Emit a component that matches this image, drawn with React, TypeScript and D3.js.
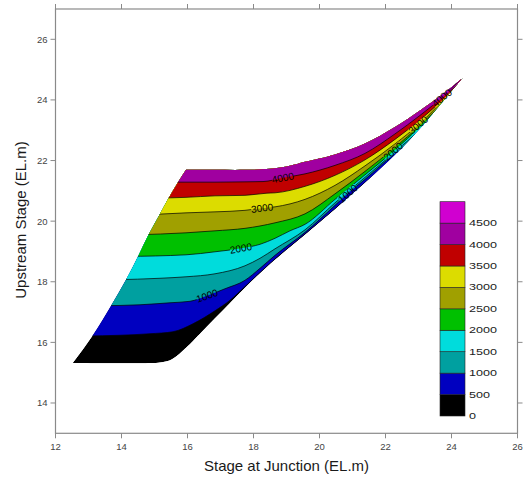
import React from 'react';
import * as d3 from 'd3';

type P = [number, number];

const xTicks = [12, 14, 16, 18, 20, 22, 24, 26];
const yTicks = [14, 16, 18, 20, 22, 24, 26];
const levels = [0, 500, 1000, 1500, 2000, 2500, 3000, 3500, 4000, 4500, 5000];
const bandColors = ['#000000', '#0000c0', '#00a0a0', '#00dcdc', '#00c000', '#a0a000', '#dcdc00', '#c00000', '#a000a0', '#d000d0'];

// boundary of the computed region (data units: junction stage, upstream stage)
const leftEdge: P[] = [[12.521, 15.319], [13.121, 16.219], [13.682, 17.208], [14.136, 18.065], [14.5, 18.834], [14.818, 19.549], [15.152, 20.208], [15.424, 20.759], [15.712, 21.287], [15.955, 21.692]];
const upperEdge: P[] = [[15.955, 21.692], [16.833, 21.692], [17.742, 21.692], [18.5, 21.725], [19.106, 21.824], [19.561, 21.956], [20.47, 22.203], [21.379, 22.566], [22.288, 23.11], [23.045, 23.654], [23.803, 24.247], [24.327, 24.715]];
const lowerEdge: P[] = [[12.521, 15.319], [14.955, 15.319], [15.227, 15.345], [15.53, 15.444], [15.955, 15.823], [16.379, 16.285], [16.833, 16.796], [17.288, 17.3], [17.742, 17.802], [18.197, 18.28], [18.652, 18.725], [19.561, 19.549], [20.47, 20.39], [21.379, 21.263], [22.288, 22.187], [23.045, 23.061], [23.803, 24.033], [24.327, 24.715]];

// contour lines
const line500: P[] = [[12.894, 16.209], [13.955, 16.235], [14.864, 16.285], [15.561, 16.351], [16.167, 16.615], [16.833, 17.043], [17.288, 17.389], [17.742, 17.841], [18.197, 18.303], [18.652, 18.751], [19.561, 19.572], [20.47, 20.41], [21.379, 21.277], [21.985, 21.824]];
const line1000: P[] = [[13.348, 17.208], [14.561, 17.241], [15.47, 17.307], [16.076, 17.356], [16.591, 17.538], [17.136, 17.769], [17.742, 18.049], [18.197, 18.444], [18.652, 18.873], [19.561, 19.631], [20.47, 20.522], [20.864, 20.917], [21.379, 21.379], [22.288, 22.236], [22.591, 22.483]];
const line1500: P[] = [[13.803, 18.065], [15.167, 18.115], [15.955, 18.164], [16.833, 18.263], [17.742, 18.527], [18.197, 18.774], [18.652, 19.087], [19.561, 19.714], [20.47, 20.604], [21.379, 21.445], [22.288, 22.286], [22.894, 22.862]];
const line2000: P[] = [[14.106, 18.834], [15.955, 18.889], [16.833, 18.989], [17.621, 19.104], [18.197, 19.236], [18.652, 19.434], [19.106, 19.681], [19.561, 19.895], [20.47, 20.719], [21.379, 21.527], [22.288, 22.351], [23.045, 23.11], [23.348, 23.423]];
const line2500: P[] = [[14.409, 19.549], [15.955, 19.615], [16.833, 19.681], [17.742, 19.763], [18.652, 19.945], [19.561, 20.241], [20.47, 20.901], [21.379, 21.643], [22.288, 22.434], [23.045, 23.159], [23.652, 23.802]];
const line3000: P[] = [[14.712, 20.208], [15.955, 20.274], [16.833, 20.307], [17.742, 20.357], [18.258, 20.429], [18.652, 20.472], [19.561, 20.719], [20.47, 21.181], [21.379, 21.824], [22.288, 22.549], [23.045, 23.225], [23.803, 24.049], [24.015, 24.28]];
const line3500: P[] = [[15.015, 20.759], [15.955, 20.785], [16.833, 20.835], [17.742, 20.851], [18.409, 20.924], [18.652, 20.934], [19.561, 21.148], [20.47, 21.511], [21.379, 22.022], [22.288, 22.698], [23.045, 23.341], [23.803, 24.082], [24.136, 24.445]];
const line4000: P[] = [[15.318, 21.287], [16.833, 21.287], [17.742, 21.296], [18.288, 21.306], [18.894, 21.428], [19.561, 21.56], [20.47, 21.841], [21.379, 22.236], [22.288, 22.879], [23.045, 23.489], [23.803, 24.148], [24.4, 24.7]];
const line4500: P[] = [[23.045, 24.0], [23.561, 24.033], [23.803, 24.214], [24.106, 24.495], [24.379, 24.758]];

const contourLevels = [500, 1000, 1500, 2000, 2500, 3000, 3500, 4000, 4500];
const contourLines = [line500, line1000, line1500, line2000, line2500, line3000, line3500, line4000, line4500];

const labelLevels = [1000, 2000, 3000, 4000, 1000, 2000, 3000, 4000];
const labelX = [16.59, 17.62, 18.26, 18.89, 20.86, 22.23, 22.99, 23.71];

const interpY = (pts: P[], xv: number) => {
  for (let i = 0; i < pts.length - 1; i++) {
    const [x0, y0] = pts[i];
    const [x1, y1] = pts[i + 1];
    if (xv >= x0 && xv <= x1) return y0 + ((xv - x0) / (x1 - x0)) * (y1 - y0);
  }
  return pts[pts.length - 1][1];
};

export default function App() {
  const x = d3.scaleLinear().domain([12, 26]).range([55.5, 517.5]);
  const y = d3.scaleLinear().domain([13, 27]).range([433.3, 9]);
  const gen = (curve: d3.CurveFactory) =>
    d3.line<P>().x((d) => x(d[0])).y((d) => y(d[1])).curve(curve);
  const asL = (s: string) => s.replace(/^M/, 'L');
  const smooth = d3.curveCatmullRom.alpha(0.5);

  const domainPath =
    gen(smooth)(lowerEdge)! +
    asL(gen(smooth)([...upperEdge].reverse())!) +
    asL(gen(d3.curveMonotoneY)([...leftEdge].reverse())!) +
    'Z';

  const abovePath = (pts: P[]) => {
    const first = pts[0];
    const last = pts[pts.length - 1];
    return (
      gen(d3.curveMonotoneX)(pts)! +
      `L${x(last[0] + 10)},${y(last[1])}L${x(last[0] + 10)},${y(40)}L${x(first[0] - 10)},${y(40)}L${x(first[0] - 10)},${y(first[1])}Z`
    );
  };

  const labels = labelLevels.map((lv, i) => {
    const pts = contourLines[contourLevels.indexOf(lv)];
    const xv = labelX[i];
    const px = x(xv);
    const py = y(interpY(pts, xv));
    const a0x = x(xv - 0.1), a0y = y(interpY(pts, xv - 0.1));
    const a1x = x(xv + 0.1), a1y = y(interpY(pts, xv + 0.1));
    const ang = (Math.atan2(a1y - a0y, a1x - a0x) * 180) / Math.PI;
    return { lv, px, py, ang };
  });

  const cb = d3.scaleLinear().domain([0, 5000]).range([416, 201.7]);
  const cbX = 440;
  const cbW = 25;

  const axisColor = '#8a8a8a';
  const tickFont = 'Arial, "Liberation Sans", sans-serif';
  const [x0, x1] = x.range();
  const [yb, yt] = y.range();

  return (
    <svg width={531} height={480} style={{ position: 'absolute', left: 0, top: 0, background: '#fff' }} fontFamily={tickFont}>
      <defs>
        <clipPath id="dom">
          <path d={domainPath} />
        </clipPath>
        <mask id="lblmask" maskUnits="userSpaceOnUse" x={0} y={0} width={531} height={480}>
          <rect x={0} y={0} width={531} height={480} fill="#fff" />
          {labels.map((l, i) => (
            <rect key={i} x={-11} y={-4} width={22} height={8} fill="#000" transform={`translate(${l.px},${l.py}) rotate(${l.ang})`} />
          ))}
        </mask>
      </defs>
      <rect x={0} y={0} width={531} height={480} fill="#fff" />

      {/* filled bands */}
      <g clipPath="url(#dom)">
        <path d={domainPath} fill={bandColors[0]} />
        {contourLines.map((pts, i) => (
          <path key={i} d={abovePath(pts)} fill={bandColors[i + 1]} />
        ))}
        <g mask="url(#lblmask)">
          {contourLines.map((pts, i) => (
            <path key={i} d={gen(d3.curveMonotoneX)(pts)!} fill="none" stroke="#000" strokeWidth={0.7} />
          ))}
        </g>
      </g>

      {/* contour labels */}
      {labels.map((l, i) => (
        <text key={i} x={0} y={0} transform={`translate(${l.px},${l.py}) rotate(${l.ang})`} textAnchor="middle" dominantBaseline="central" fontSize={10} fill="#000">
          {l.lv}
        </text>
      ))}

      {/* frame */}
      <rect x={x0} y={yt} width={x1 - x0} height={yb - yt} fill="none" stroke={axisColor} strokeWidth={1.2} />
      {xTicks.map((t) => (
        <g key={'xt' + t}>
          <line x1={x(t)} x2={x(t)} y1={yb} y2={yb + 5} stroke={axisColor} strokeWidth={1} />
          <line x1={x(t)} x2={x(t)} y1={yt} y2={yt - 5} stroke={axisColor} strokeWidth={1} />
          <text x={x(t)} y={449.5} textAnchor="middle" fontSize={9.5} fill="#444">{t}</text>
        </g>
      ))}
      {yTicks.map((t) => (
        <g key={'yt' + t}>
          <line x1={x0} x2={x0 - 5} y1={y(t)} y2={y(t)} stroke={axisColor} strokeWidth={1} />
          <line x1={x1} x2={x1 + 5} y1={y(t)} y2={y(t)} stroke={axisColor} strokeWidth={1} />
          <text x={47.5} y={y(t)} textAnchor="end" dominantBaseline="central" fontSize={9.5} fill="#444">{t}</text>
        </g>
      ))}

      {/* axis titles */}
      <text x={(x0 + x1) / 2} y={471} textAnchor="middle" fontSize={15} fill="#1a1a1a">Stage at Junction (EL.m)</text>
      <text transform={`translate(26,${220}) rotate(-90)`} textAnchor="middle" fontSize={15} fill="#1a1a1a">Upstream Stage (EL.m)</text>

      {/* colour bar */}
      {bandColors.map((c, i) => (
        <rect key={'cb' + i} x={cbX} y={cb(levels[i + 1])} width={cbW} height={cb(levels[i]) - cb(levels[i + 1])} fill={c} stroke="#222" strokeWidth={0.6} />
      ))}
      {levels.slice(0, 10).map((v) => (
        <text key={'cbl' + v} x={469} y={cb(v)} dominantBaseline="central" fontSize={8.5} fill="#222" textLength={String(v).length * 7} lengthAdjust="spacingAndGlyphs">
          {v}
        </text>
      ))}
    </svg>
  );
}
